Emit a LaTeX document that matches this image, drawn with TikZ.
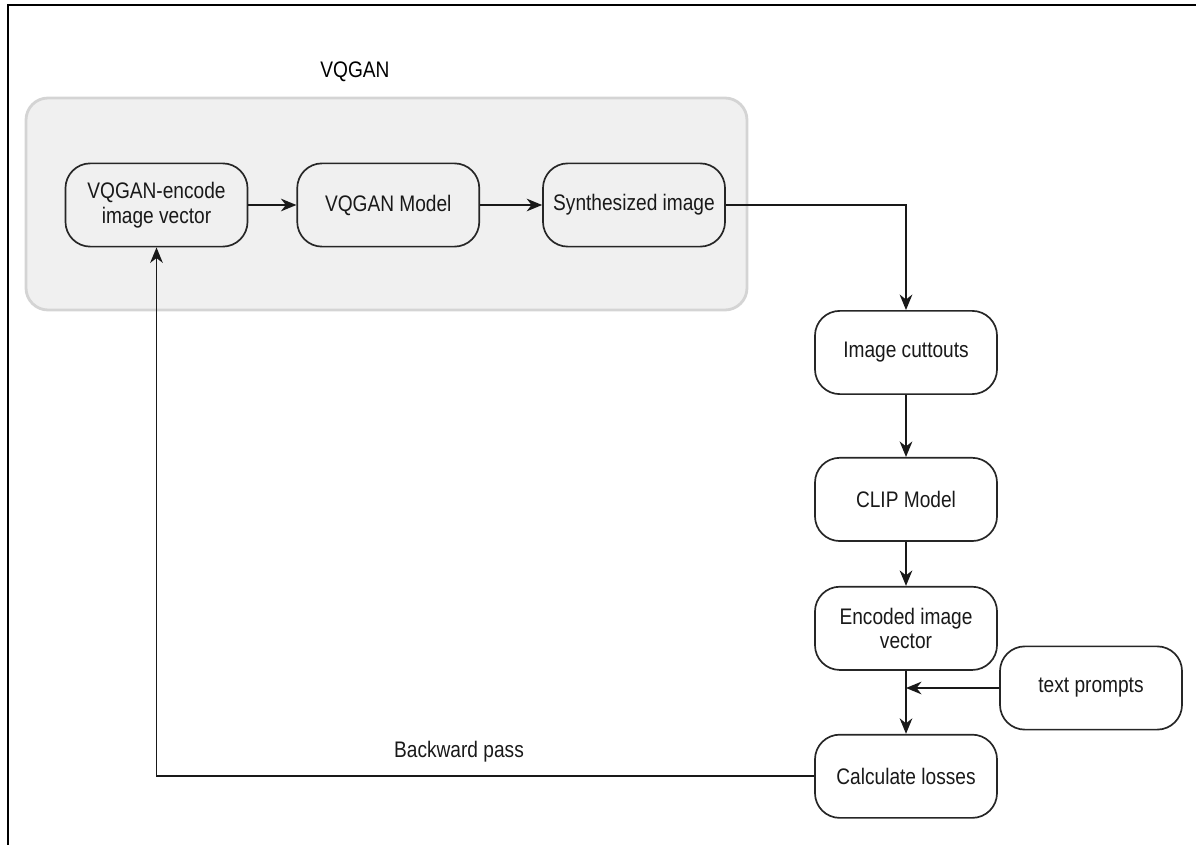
\documentclass[tikz,border=0pt]{standalone}
\usepackage{fontspec}
\setmainfont{Liberation Sans}[FakeStretch=0.85]
\usetikzlibrary{positioning, arrows.meta}

\begin{document}
\begin{tikzpicture}[x=0.025cm, y=-0.025cm,
    font=\fontsize{16}{17.5}\selectfont,
    box/.style={draw=black!85, line width=1.2pt, rectangle, rounded corners=0.62cm,
                minimum width=4.55cm, minimum height=2.08cm, align=center, text=black!90},
    arr/.style={-{Stealth[length=11pt, width=9pt, inset=3.5pt]}, line width=1.3pt, black!90},
    group/.style={draw=black!17, fill=black!6, line width=2pt, rounded corners=0.55cm}]
    \useasboundingbox (0,0) rectangle (1196,845);

    % frame and VQGAN group
    \draw[line width=2pt] (8,845) -- (8,5) -- (1196,5);
    \draw[group] (26,98) rectangle (747,310);
    \node (vq) at (355,72) {VQGAN};

    \node[box] (1) at (156.5,205) {VQGAN-encode\\image vector};
    \node[box] (2) [right=1.2cm of 1] {VQGAN Model};
    \node[box] (3) [right=1.55cm of 2] {Synthesized image};

    \node[box] (4) at (906,352.5) {Image cuttouts};
    \node[box] (5) [below=1.55cm of 4] {CLIP Model};
    \node[box] (6) [below=1.1cm of 5] {Encoded image\\vector};
    \node[box] (7) [below=1.575cm of 6] {Calculate losses};

    \node[box] (8) at (1091,688) {text prompts};
    \coordinate (j) at (6.south |- 8.west);

    \draw[arr] (1) -- (2);
    \draw[arr] (2) -- (3);
    \draw[arr] (3.east) -| (4.north);
    \draw[arr] (4) -- (5);
    \draw[arr] (5) -- (6);
    \draw[arr] (6) -- (7);
    \draw[arr] (8.west) -- (j);
    \draw[arr] (7.west) -| node[pos=0.27, above=6pt] (bp) {Backward pass} (1.south);
\end{tikzpicture}
\end{document}
